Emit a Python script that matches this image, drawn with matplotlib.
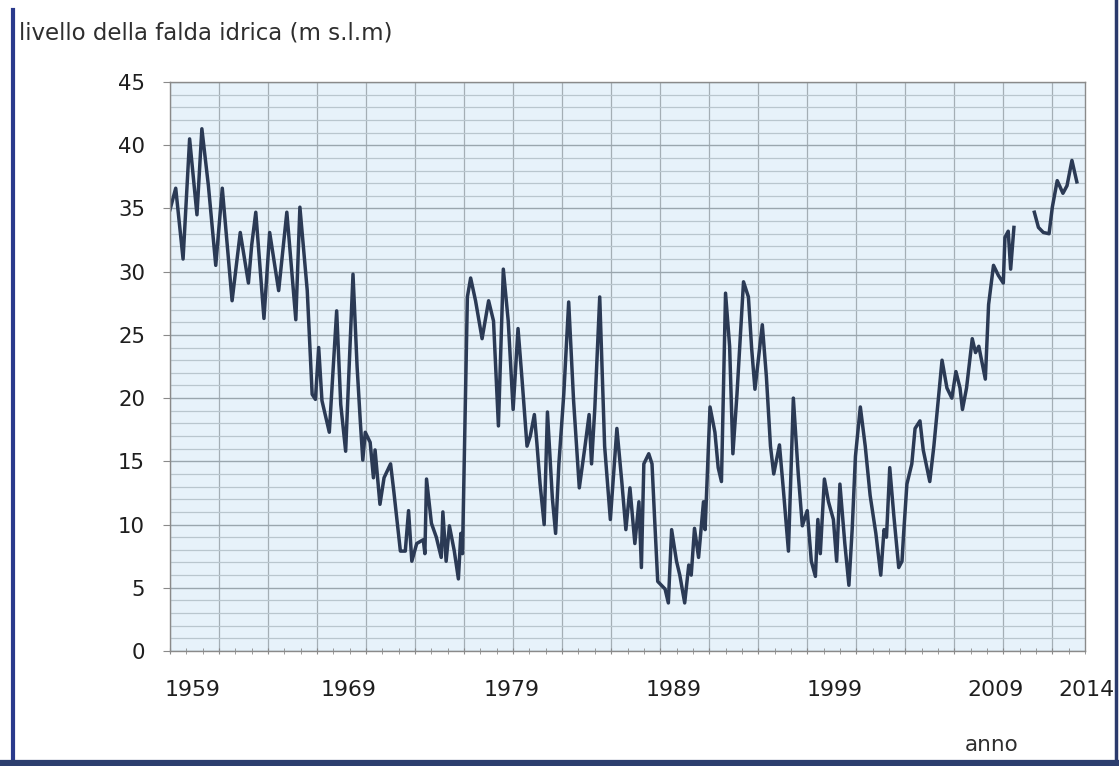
import numpy as np
import matplotlib
matplotlib.use("Agg")
import matplotlib.pyplot as plt
from matplotlib.ticker import MultipleLocator, FixedLocator, NullFormatter
from matplotlib.lines import Line2D
import matplotlib.transforms as mtransforms

# groundwater level (decimal year, m s.l.m); nan = gap in record
years = [
    1959.0, 1959.35, 1959.8, 1960.2, 1960.65, 1960.95, 1961.35, 1961.8, 1962.2, 1962.8,
    1963.3, 1963.8, 1964.0, 1964.25, 1964.75, 1965.1, 1965.65, 1966.15, 1966.7, 1966.95,
    1967.4, 1967.7, 1967.9, 1968.1, 1968.3, 1968.75, 1969.2, 1969.45, 1969.75, 1970.2,
    1970.45, 1970.65, 1970.8, 1970.95, 1971.25, 1971.45, 1971.55, 1971.85, 1972.1, 1972.5,
    1972.7, 1973.1,
    1973.4, 1973.6, 1973.8, 1974.1, 1974.5, 1974.6, 1974.7, 1975.0, 1975.3, 1975.6,
    1975.7, 1975.9, 1976.1, 1976.4, 1976.65, 1976.8, 1976.9, 1977.2, 1977.4, 1977.7,
    1978.1, 1978.5, 1978.8, 1979.1, 1979.4, 1979.7, 1980.0, 1980.3, 1980.55, 1980.85,
    1981.05, 1981.3, 1981.45, 1981.65, 1981.9, 1982.1, 1982.4, 1982.6, 1982.8, 1983.1,
    1983.4, 1983.7, 1984.05, 1984.4, 1984.65, 1984.8, 1985.0, 1985.3, 1985.6, 1985.95,
    1986.35, 1986.65, 1986.9, 1987.15, 1987.45, 1987.7, 1987.85,
    1988.0, 1988.3, 1988.5, 1988.65, 1988.85, 1989.3, 1989.5, 1989.7, 1990.0, 1990.2,
    1990.5, 1990.75, 1990.9, 1991.1, 1991.35, 1991.65, 1991.75, 1992.05, 1992.35, 1992.55,
    1992.75, 1993.0, 1993.25, 1993.45, 1993.7, 1994.1, 1994.4, 1994.6, 1994.8, 1995.0,
    1995.25, 1995.5, 1995.75, 1995.95, 1996.3, 1996.55, 1996.85, 1997.15, 1997.45, 1997.7,
    1998.0, 1998.25, 1998.5, 1998.65, 1998.8, 1999.05, 1999.3, 1999.6, 1999.8, 2000.0,
    2000.3, 2000.55, 2000.75, 2000.95, 2001.25, 2001.55, 2001.85,
    2002.2, 2002.5, 2002.7, 2002.85, 2003.05, 2003.3, 2003.6, 2003.8, 2003.9, 2004.1,
    2004.4, 2004.6, 2004.9, 2005.1, 2005.5, 2005.75, 2006.05, 2006.25, 2006.55, 2006.85,
    2007.1, 2007.35, 2007.5, 2007.75, 2008.1, 2008.3, 2008.5, 2008.7, 2008.9, 2009.1,
    2009.4, 2009.7, 2010.0, 2010.1, 2010.3, 2010.45, 2010.65, 2011.2,
    2011.9, 2012.15, 2012.45, 2012.8, 2013.0, 2013.3, 2013.65, 2013.9, 2014.2, 2014.5,
]
levels = [
    34.9, 36.6, 31.0, 40.5, 34.5, 41.3, 36.8, 30.5, 36.6, 27.7,
    33.1, 29.1, 32.1, 34.7, 26.3, 33.1, 28.5, 34.7, 26.2, 35.1,
    28.5, 20.3, 19.9, 24.0, 19.8, 17.3, 26.9, 19.5, 15.8, 29.8,
    22.5, 18.1, 15.1, 17.3, 16.5, 13.7, 15.9, 11.6, 13.7, 14.8,
    12.6, 7.9,
    7.9, 11.1, 7.1, 8.5, 8.8, 7.7, 13.6, 10.1, 9.0, 7.4,
    11.0, 7.1, 9.9, 7.9, 5.7, 9.3, 7.7, 28.0, 29.5, 27.7,
    24.7, 27.7, 26.1, 17.8, 30.2, 26.1, 19.1, 25.5, 21.4, 16.2,
    17.0, 18.7, 16.5, 13.2, 10.0, 18.9, 12.1, 9.3, 14.8, 20.3,
    27.6, 19.8, 12.9, 16.2, 18.7, 14.8, 19.2, 28.0, 16.2, 10.4,
    17.6, 13.4, 9.6, 12.9, 8.5, 11.8, 6.6,
    14.8, 15.6, 14.8, 10.7, 5.5, 4.9, 3.8, 9.6, 7.1, 6.0,
    3.8, 6.8, 6.0, 9.7, 7.4, 11.8, 9.6, 19.3, 17.3, 14.5,
    13.4, 28.3, 24.1, 15.6, 20.3, 29.2, 28.0, 23.9, 20.7, 23.0,
    25.8, 21.7, 16.2, 14.0, 16.3, 12.6, 7.9, 20.0, 14.0, 9.9,
    11.1, 7.1, 5.9, 10.4, 7.7, 13.6, 11.8, 10.4, 7.1, 13.2,
    8.5, 5.2, 9.6, 15.4, 19.3, 16.2, 12.3,
    9.3, 6.0, 9.6, 9.0, 14.5, 10.7, 6.6, 7.1, 9.3, 13.2,
    14.8, 17.6, 18.2, 15.9, 13.4, 16.2, 20.3, 23.0, 20.8, 20.0,
    22.1, 20.8, 19.1, 20.8, 24.7, 23.6, 24.1, 22.8, 21.5, 27.4,
    30.5, 29.7, 29.1, 32.7, 33.2, 30.2, 33.5, np.nan,
    34.7, 33.5, 33.1, 33.0, 35.1, 37.2, 36.2, 36.8, 38.8, 37.1,
]

year_labels = ["1959", "1969", "1979", "1989", "1999", "2009", "2014"]
label_pos = [1960.35, 1969.9, 1979.9, 1989.8, 1999.7, 2009.5, 2015.1]

plt.rcParams['font.family'] = ['DejaVu Sans']

fig = plt.figure(figsize=(11.19, 7.66), dpi=100)
ax = fig.add_axes([170/1119, 1 - 651/766, 915/1119, 569/766])
ax.set_facecolor('#e7f2fa')

ax.set_xlim(1959, 2015)
ax.set_ylim(0, 45)

# grid: horizontal every 1 m (darker every 5), vertical every 3 years
ax.yaxis.set_major_locator(MultipleLocator(5))
ax.yaxis.set_minor_locator(MultipleLocator(1))
ax.xaxis.set_major_locator(FixedLocator(np.arange(1959, 2015, 3)))
ax.xaxis.set_minor_locator(MultipleLocator(1))
ax.xaxis.set_major_formatter(NullFormatter())
ax.grid(which='major', axis='y', color='#9aa6ae', linewidth=1.0)
ax.grid(which='minor', axis='y', color='#b9c6ce', linewidth=0.9)
ax.grid(which='major', axis='x', color='#a4aeb5', linewidth=0.9)
ax.set_axisbelow(True)

ax.tick_params(axis='y', which='major', length=5, color='#8a8a8a', pad=13,
               labelsize=15.3, labelcolor='#1e1e1e')
ax.tick_params(axis='y', which='minor', length=0)
ax.tick_params(axis='x', which='both', direction='inout', length=5, color='#8a8a8a')

for s in ax.spines.values():
    s.set_color('#8a8a8a')
    s.set_linewidth(1.0)

ax.plot(years, levels, color='#2b3a55', linewidth=2.5, solid_joinstyle='round')

trans = mtransforms.blended_transform_factory(ax.transData, ax.transAxes)
for lab, p in zip(year_labels, label_pos):
    ax.text(p, -0.068, lab, transform=trans, ha='center', va='center',
            fontsize=15.8, color='#1e1e1e', clip_on=False)

fig.text(19/1119, 1 - 33/766, 'livello della falda idrica (m s.l.m)', ha='left', va='center',
         fontsize=16.5, color='#2e2e2e')
fig.text(992/1119, 1 - 745/766, 'anno', ha='center', va='center', fontsize=15.5, color='#2e2e2e')

# dark frame of the original picture
fig.add_artist(Line2D([13/1119, 13/1119], [0, 1 - 10/766], color='#2a3a8c', linewidth=3))
fig.add_artist(Line2D([1116/1119, 1116/1119], [0, 1], color='#2a3a6c', linewidth=2.5))
fig.add_artist(Line2D([0, 1], [3/766, 3/766], color='#2c3e6e', linewidth=4.5))

plt.savefig('out.png', dpi=100)
